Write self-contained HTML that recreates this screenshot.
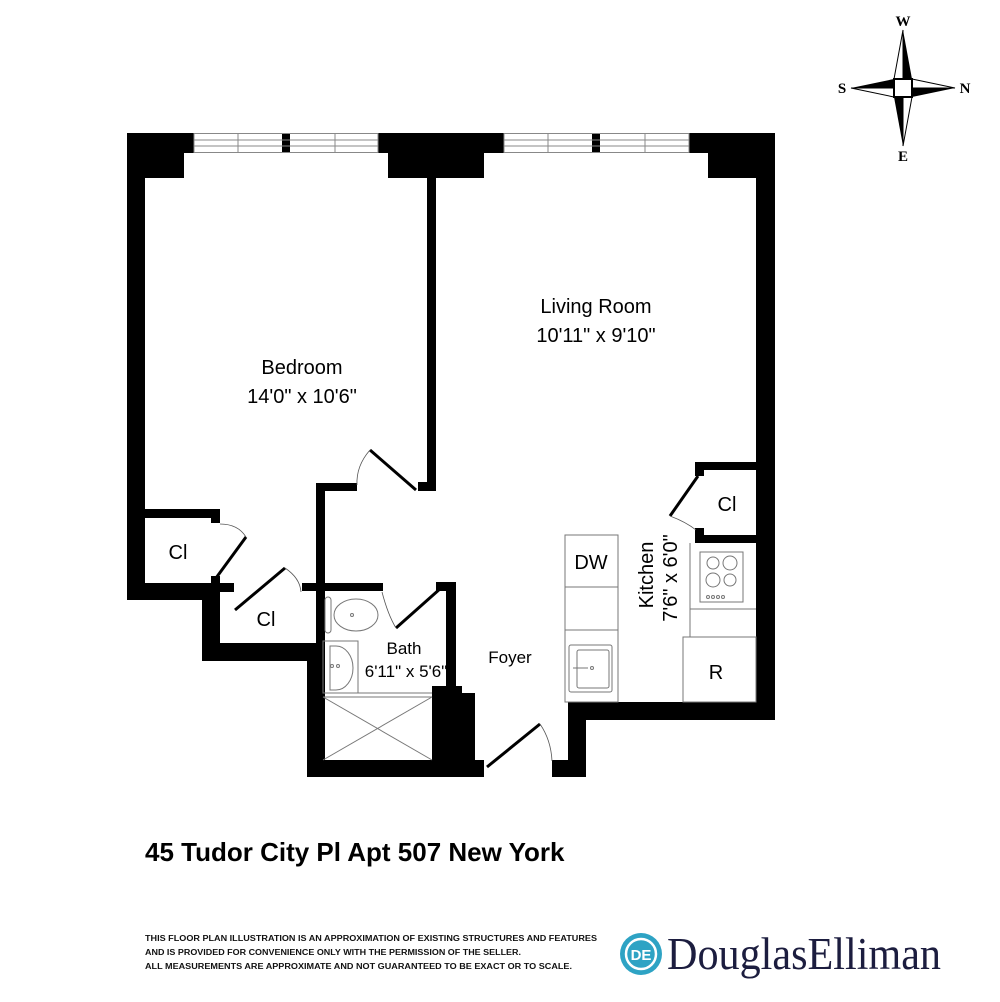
<!DOCTYPE html>
<html><head><meta charset="utf-8"><style>
html,body{margin:0;padding:0;background:#fff;}
svg{display:block;}
text{font-family:"Liberation Sans",Arial,sans-serif;}
text.serif{font-family:"Liberation Serif","DejaVu Serif",serif;}
</style></head><body>
<svg width="1000" height="1002" viewBox="0 0 1000 1002" xmlns="http://www.w3.org/2000/svg">
<g fill="#000">
<rect x="127" y="133" width="67" height="20"/>
<rect x="127" y="133" width="57" height="45"/>
<rect x="127" y="133" width="18" height="467"/>
<rect x="378" y="133" width="126" height="20"/>
<rect x="388" y="133" width="96" height="45"/>
<rect x="689" y="133" width="86" height="20"/>
<rect x="708" y="133" width="67" height="45"/>
<rect x="756" y="133" width="19" height="587"/>
<rect x="282" y="133" width="8" height="20"/>
<rect x="592" y="133" width="8" height="20"/>
<rect x="427" y="178" width="9" height="313"/>
<rect x="418" y="482" width="18" height="9"/>
<rect x="316" y="483" width="41" height="8"/>
<rect x="316" y="483" width="9" height="294"/>
<rect x="145" y="509" width="75" height="9"/>
<rect x="211" y="509" width="9" height="14"/>
<rect x="211" y="576" width="9" height="14"/>
<rect x="127" y="583" width="90" height="17"/>
<rect x="202" y="583" width="18" height="78"/>
<rect x="202" y="643" width="114" height="18"/>
<rect x="220" y="583" width="14" height="9"/>
<rect x="302" y="583" width="81" height="8"/>
<rect x="307" y="643" width="18" height="134"/>
<rect x="446" y="582" width="10" height="111"/>
<rect x="436" y="582" width="20" height="9"/>
<rect x="432" y="686" width="30" height="91"/>
<rect x="455" y="693" width="20" height="84"/>
<rect x="307" y="760" width="177" height="17"/>
<rect x="552" y="760" width="34" height="17"/>
<rect x="568" y="703" width="18" height="74"/>
<rect x="568" y="702" width="207" height="18"/>
<rect x="695" y="462" width="61" height="8"/>
<rect x="695" y="462" width="9" height="14"/>
<rect x="695" y="528" width="9" height="15"/>
<rect x="695" y="535" width="61" height="8"/>
</g>
<g stroke="#888" stroke-width="1" fill="none">
<rect x="194" y="133.5" width="184" height="19"/>
<line x1="194" y1="140" x2="378" y2="140"/><line x1="194" y1="146" x2="378" y2="146"/>
<line x1="238" y1="133" x2="238" y2="153"/><line x1="335" y1="133" x2="335" y2="153"/>
<rect x="504" y="133.5" width="185" height="19"/>
<line x1="504" y1="140" x2="689" y2="140"/><line x1="504" y1="146" x2="689" y2="146"/>
<line x1="548" y1="133" x2="548" y2="153"/><line x1="645" y1="133" x2="645" y2="153"/>
</g>
<g stroke="#000" stroke-width="3" fill="none">
<line x1="370" y1="450" x2="416" y2="490"/>
<line x1="246" y1="537" x2="216" y2="578"/>
<line x1="285" y1="568" x2="235" y2="610"/>
<line x1="441" y1="588" x2="396" y2="628"/>
<line x1="540" y1="724" x2="487" y2="767"/>
<line x1="698" y1="476" x2="670" y2="516"/>
</g>
<g stroke="#555" stroke-width="0.8" fill="none">
<path d="M370 450 Q356 466 357 485"/>
<path d="M220 524 Q238 524 246 537"/>
<path d="M285 568 Q300 578 301 592"/>
<path d="M382 592 Q388 615 396 628"/>
<path d="M540 724 Q551 740 552 761"/>
<path d="M670 516 Q686 522 696 530"/>
</g>
<g stroke="#777" stroke-width="1" fill="none">
<rect x="325" y="597" width="6" height="36" rx="3"/>
<ellipse cx="356" cy="615" rx="22" ry="16"/>
<circle cx="352" cy="615" r="1.5"/>
<rect x="323" y="641" width="35" height="52"/>
<path d="M330 646 h6 a17 22 0 0 1 0 44 h-6 z"/>
<circle cx="338" cy="666" r="1.5"/><circle cx="332" cy="666" r="1.5"/>
<line x1="323" y1="693" x2="432" y2="693"/>
<line x1="323" y1="697" x2="432" y2="697"/>
<line x1="323" y1="697" x2="432" y2="760"/>
<line x1="432" y1="697" x2="323" y2="760"/>
</g>
<g stroke="#777" stroke-width="1" fill="none">
<rect x="565" y="535" width="53" height="167"/>
<line x1="565" y1="587" x2="618" y2="587"/>
<line x1="565" y1="630" x2="618" y2="630"/>
<rect x="569" y="645" width="43" height="47" rx="2"/>
<rect x="577" y="650" width="32" height="38" rx="2"/>
<line x1="573" y1="668" x2="588" y2="668"/>
<circle cx="592" cy="668" r="1.5"/>
<line x1="690" y1="543" x2="690" y2="637"/>
<rect x="700" y="552" width="43" height="50"/>
<circle cx="713" cy="563" r="6"/><circle cx="730" cy="563" r="7"/>
<circle cx="713" cy="580" r="7"/><circle cx="730" cy="580" r="6"/>
<circle cx="708" cy="597" r="1.5"/><circle cx="713" cy="597" r="1.5"/><circle cx="718" cy="597" r="1.5"/><circle cx="723" cy="597" r="1.5"/>
<line x1="690" y1="609" x2="756" y2="609"/>
<rect x="683" y="637" width="73" height="65"/>
</g>
<g fill="#000" font-size="20" text-anchor="middle">
<text x="596" y="313">Living Room</text>
<text x="596" y="342">10'11" x 9'10"</text>
<text x="302" y="374">Bedroom</text>
<text x="302" y="403">14'0" x 10'6"</text>
<text x="178" y="559">Cl</text>
<text x="266" y="626">Cl</text>
<text x="727" y="511">Cl</text>
<text x="591" y="569">DW</text>
<text x="716" y="679">R</text>
<text x="404" y="654" font-size="17">Bath</text>
<text x="406" y="677" font-size="17">6'11" x 5'6"</text>
<text x="510" y="663" font-size="17">Foyer</text>
<text transform="translate(653,575) rotate(-90)">Kitchen</text>
<text transform="translate(677,578) rotate(-90)">7'6" x 6'0"</text>
</g>
<g transform="translate(903,88)">
<polygon points="0,-58 -9,-9 0,-9" fill="#fff" stroke="#000" stroke-width="1"/>
<polygon points="0,-58 9,-9 0,-9" fill="#000"/>
<polygon points="0,58 9,9 0,9" fill="#fff" stroke="#000" stroke-width="1"/>
<polygon points="0,58 -9,9 0,9" fill="#000"/>
<polygon points="-52,0 -9,-9 -9,0" fill="#000"/>
<polygon points="-52,0 -9,9 -9,0" fill="#fff" stroke="#000" stroke-width="1"/>
<polygon points="52,0 9,9 9,0" fill="#000"/>
<polygon points="52,0 9,-9 9,0" fill="#fff" stroke="#000" stroke-width="1"/>
<rect x="-9" y="-9" width="18" height="18" fill="#fff" stroke="#000" stroke-width="2"/>
<g font-weight="bold" font-size="15" text-anchor="middle">
<text class="serif" x="0" y="-62">W</text><text class="serif" x="0" y="73">E</text>
<text class="serif" x="-61" y="5">S</text><text class="serif" x="62" y="5">N</text>
</g>
</g>
<text x="145" y="861" font-size="26" font-weight="bold">45 Tudor City Pl Apt 507 New York</text>
<g font-size="8.6" font-weight="bold" fill="#111">
<text x="145" y="941" textLength="452" lengthAdjust="spacingAndGlyphs">THIS FLOOR PLAN ILLUSTRATION IS AN APPROXIMATION OF EXISTING STRUCTURES AND FEATURES</text>
<text x="145" y="955" textLength="376" lengthAdjust="spacingAndGlyphs">AND IS PROVIDED FOR CONVENIENCE ONLY WITH THE PERMISSION OF THE SELLER.</text>
<text x="145" y="969" textLength="427" lengthAdjust="spacingAndGlyphs">ALL MEASUREMENTS ARE APPROXIMATE AND NOT GUARANTEED TO BE EXACT OR TO SCALE.</text>
</g>
<circle cx="641" cy="954" r="21" fill="#2ea3c4"/>
<circle cx="641" cy="954" r="15" fill="none" stroke="#fff" stroke-width="2.5"/>
<text x="641" y="960" font-size="15" font-weight="bold" fill="#fff" text-anchor="middle">DE</text>
<text class="serif" x="667" y="969" font-size="45" fill="#1c1d3f" textLength="274" lengthAdjust="spacingAndGlyphs">DouglasElliman</text>
</svg>
</body></html>
